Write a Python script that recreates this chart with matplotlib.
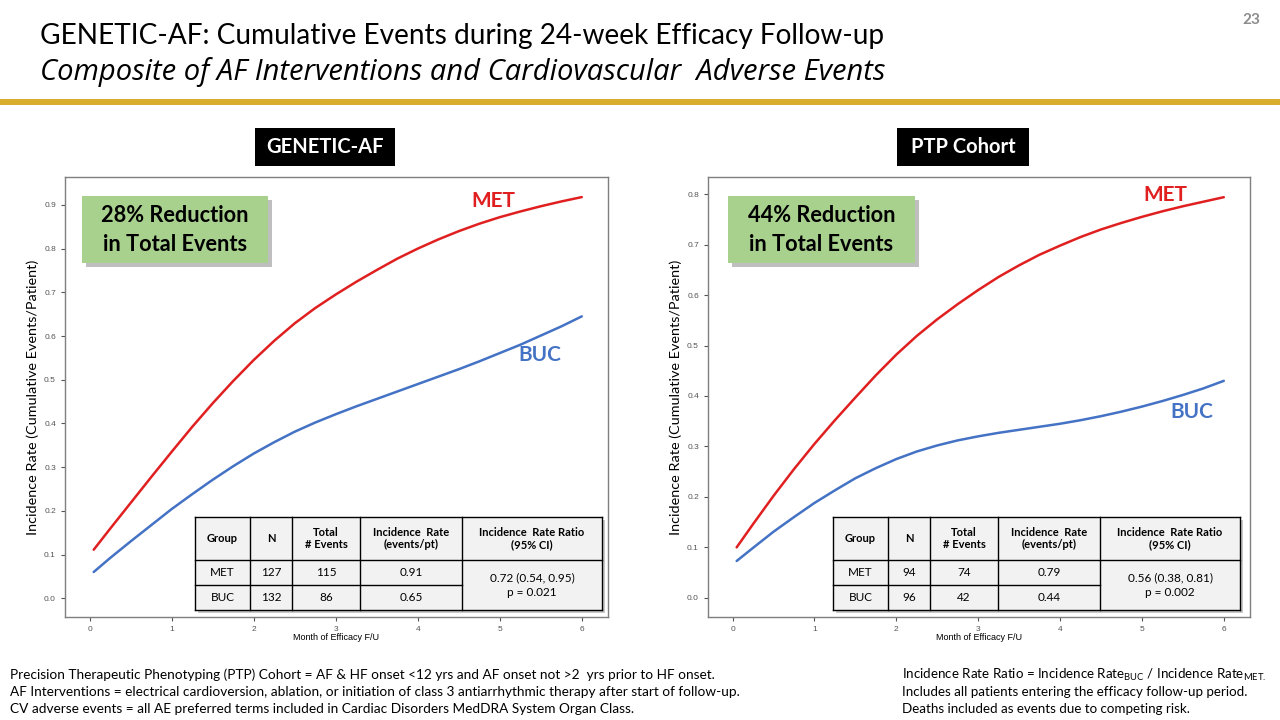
import matplotlib
matplotlib.use('Agg')
import matplotlib.pyplot as plt
from matplotlib.patches import Rectangle
from matplotlib.lines import Line2D

W, H = 1280, 720

# ---- data ----
months = [0.05, 0.25, 0.5, 0.75, 1.0, 1.25, 1.5, 1.75, 2.0, 2.25, 2.5, 2.75, 3.0,
          3.25, 3.5, 3.75, 4.0, 4.25, 4.5, 4.75, 5.0, 5.25, 5.5, 5.75, 6.0]

gaf_met = [0.111, 0.159, 0.218, 0.277, 0.335, 0.392, 0.446, 0.497, 0.545, 0.589, 0.629, 0.664, 0.695,
           0.724, 0.751, 0.777, 0.800, 0.821, 0.840, 0.857, 0.872, 0.885, 0.897, 0.908, 0.918]
gaf_buc = [0.060, 0.092, 0.130, 0.167, 0.204, 0.238, 0.271, 0.302, 0.331, 0.357, 0.381, 0.402, 0.421,
           0.439, 0.456, 0.473, 0.490, 0.507, 0.524, 0.542, 0.561, 0.580, 0.601, 0.622, 0.645]

ptp_met = [0.100, 0.146, 0.202, 0.255, 0.305, 0.352, 0.397, 0.441, 0.482, 0.519, 0.552, 0.582, 0.610,
           0.636, 0.659, 0.680, 0.698, 0.715, 0.730, 0.743, 0.755, 0.766, 0.776, 0.785, 0.794]
ptp_buc = [0.073, 0.099, 0.131, 0.160, 0.188, 0.213, 0.237, 0.257, 0.275, 0.290, 0.302, 0.312, 0.320,
           0.327, 0.333, 0.339, 0.345, 0.352, 0.360, 0.369, 0.379, 0.390, 0.402, 0.415, 0.430]

x_ticks = [0, 1, 2, 3, 4, 5, 6]
gaf_yticks = [0.0, 0.1, 0.2, 0.3, 0.4, 0.5, 0.6, 0.7, 0.8, 0.9]
ptp_yticks = [0.0, 0.1, 0.2, 0.3, 0.4, 0.5, 0.6, 0.7, 0.8]

table_head = ['Group', 'N', 'Total\n# Events', 'Incidence  Rate\n(events/pt)', 'Incidence  Rate Ratio\n(95% CI)']
groups = ['MET', 'BUC']
gaf_n = [127, 132]
gaf_events = [115, 86]
gaf_rate = ['0.91', '0.65']
gaf_irr = '0.72 (0.54, 0.95)\np = 0.021'
gaf_badge = '28% Reduction\nin Total Events'
ptp_n = [94, 96]
ptp_events = [74, 42]
ptp_rate = ['0.79', '0.44']
ptp_irr = '0.56 (0.38, 0.81)\np = 0.002'
ptp_badge = '44% Reduction\nin Total Events'

RED = '#E02020'
BLUE = '#4472C4'
GREEN = '#A9D18E'
GOLD = '#D9AE2C'
FONT = 'Lato'

plt.rcParams['font.family'] = [FONT, 'DejaVu Sans']

fig = plt.figure(figsize=(12.8, 7.2), dpi=100)


def fx(x):
    return x / W


def fy(y):
    return 1 - y / H


def rect(x0, y0, x1, y1, **kw):
    r = Rectangle((fx(x0), fy(y1)), (x1 - x0) / W, (y1 - y0) / H,
                  transform=fig.transFigure, **kw)
    fig.add_artist(r)
    return r


def hline(x0, x1, y, **kw):
    fig.add_artist(Line2D([fx(x0), fx(x1)], [fy(y), fy(y)], transform=fig.transFigure, **kw))


def vline(x, y0, y1, **kw):
    fig.add_artist(Line2D([fx(x), fx(x)], [fy(y0), fy(y1)], transform=fig.transFigure, **kw))


def txt(x, y, s, **kw):
    fig.text(fx(x), fy(y), s, **kw)


# ---- header ----
txt(40, 36, 'GENETIC-AF: Cumulative Events during 24-week Efficacy Follow-up',
    fontsize=20.2, va='center', ha='left', color='black')
txt(40, 72, 'Composite of AF Interventions and Cardiovascular  Adverse Events',
    fontsize=21, va='center', ha='left', style='italic', color='black', family='Open Sans')
txt(1251, 20, '23', fontsize=11, va='center', ha='center', color='#8C8C8C', fontweight='bold')
rect(0, 99, W, 105, facecolor=GOLD, edgecolor='none')


def panel(left_px, right_px, x_vals, met, buc, yticks, ylim, title, title_box, badge, badge_txt,
          met_lbl, buc_lbl, n, events, rate, irr, tab_x0):
    ax = fig.add_axes([fx(left_px), fy(617), (right_px - left_px) / W, (617 - 177) / H])
    ax.plot(x_vals, met, color=RED, lw=1.8, solid_capstyle='round', solid_joinstyle='round')
    ax.plot(x_vals, buc, color=BLUE, lw=1.8, solid_capstyle='round', solid_joinstyle='round')
    ax.set_xlim(-0.3, 6.32)
    ax.set_ylim(*ylim)
    ax.set_xticks(x_ticks)
    ax.set_yticks(yticks)
    ax.set_xticklabels([str(t) for t in x_ticks])
    ax.set_yticklabels(['%.1f' % t for t in yticks])
    ax.tick_params(labelsize=6, colors='#555555', length=3, width=0.8, labelcolor='#555555')
    for lab in ax.get_xticklabels() + ax.get_yticklabels():
        lab.set_family('Liberation Sans')
    for s in ax.spines.values():
        s.set_color('#7F7F7F')
        s.set_linewidth(1.0)
    ax.set_xlabel('Month of Efficacy F/U', fontsize=6.5, family='Liberation Sans', labelpad=0)
    ax.set_ylabel('Incidence Rate (Cumulative Events/Patient)', fontsize=10.4, labelpad=4)

    # black title label
    bx0, bx1 = title_box
    rect(bx0, 128, bx1, 166, facecolor='black', edgecolor='none')
    txt((bx0 + bx1) / 2, 147, title, color='white', fontsize=14.5, fontweight='bold',
        ha='center', va='center')

    # green reduction badge with shadow
    gx0, gx1 = badge
    rect(gx0 + 4, 200, gx1 + 4, 267, facecolor='#BFBFBF', edgecolor='none')
    rect(gx0, 196, gx1, 263, facecolor=GREEN, edgecolor='none')
    txt((gx0 + gx1) / 2, 230, badge_txt, fontsize=15.7, fontweight='bold',
        ha='center', va='center', linespacing=1.42)

    txt(met_lbl[0], met_lbl[1], 'MET', color=RED, fontsize=15, fontweight='bold',
        ha='center', va='center')
    txt(buc_lbl[0], buc_lbl[1], 'BUC', color=BLUE, fontsize=15, fontweight='bold',
        ha='center', va='center')

    # summary table
    cols = [0, 55, 97, 165, 267, 407]
    cx = [tab_x0 + c for c in cols]
    ty0, ty1, ty2, ty3 = 517, 560, 585, 610
    rect(cx[0] + 3, ty0 + 3, cx[-1] + 3, ty3 + 3, facecolor='#C8C8C8', edgecolor='none')
    rect(cx[0], ty0, cx[-1], ty3, facecolor='#F2F2F2', edgecolor='none')
    lw = 1.0
    for y in (ty0, ty1, ty3):
        hline(cx[0], cx[-1], y, color='black', lw=lw)
    hline(cx[0], cx[4], ty2, color='black', lw=lw)
    for x in cx:
        vline(x, ty0, ty3, color='black', lw=lw)
    for i, h in enumerate(table_head):
        txt((cx[i] + cx[i + 1]) / 2, (ty0 + ty1) / 2, h, fontsize=8, fontweight='bold',
            ha='center', va='center', linespacing=1.2)
    for r, (yy0, yy1) in enumerate([(ty1, ty2), (ty2, ty3)]):
        row = [groups[r], str(n[r]), str(events[r]), rate[r]]
        for i, v in enumerate(row):
            txt((cx[i] + cx[i + 1]) / 2, (yy0 + yy1) / 2, v, fontsize=8.5,
                ha='center', va='center')
    txt((cx[4] + cx[5]) / 2, (ty1 + ty3) / 2, irr, fontsize=8.5, ha='center',
        va='center', linespacing=1.35)
    return ax


panel(65, 608, months, gaf_met, gaf_buc, gaf_yticks, (-0.043, 0.964), 'GENETIC-AF',
      (255, 395), (82, 268), gaf_badge, (493, 201), (540, 355),
      gaf_n, gaf_events, gaf_rate, gaf_irr, 195)
panel(708, 1250, months, ptp_met, ptp_buc, ptp_yticks, (-0.038, 0.834), 'PTP Cohort',
      (897, 1029), (728, 915), ptp_badge, (1165, 195), (1192, 412),
      ptp_n, ptp_events, ptp_rate, ptp_irr, 833)

# ---- footnotes ----
foot_left = [
    'Precision Therapeutic Phenotyping (PTP) Cohort = AF & HF onset <12 yrs and AF onset not >2  yrs prior to HF onset.',
    'AF Interventions = electrical cardioversion, ablation, or initiation of class 3 antiarrhythmic therapy after start of follow-up.',
    'CV adverse events = all AE preferred terms included in Cardiac Disorders MedDRA System Organ Class.',
]
foot_right = [
    r'Incidence Rate Ratio = Incidence Rate$_{\mathregular{BUC}}$ / Incidence Rate$_{\mathregular{MET.}}$',
    'Includes all patients entering the efficacy follow-up period.',
    'Deaths included as events due to competing risk.',
]
for i, s in enumerate(foot_left):
    txt(10, 675 + 17 * i, s, fontsize=9.8, ha='left', va='center')
for i, s in enumerate(foot_right):
    txt(902, 675 + 17 * i, s, fontsize=9.6, ha='left', va='center')

fig.savefig('out.png', dpi=100)
